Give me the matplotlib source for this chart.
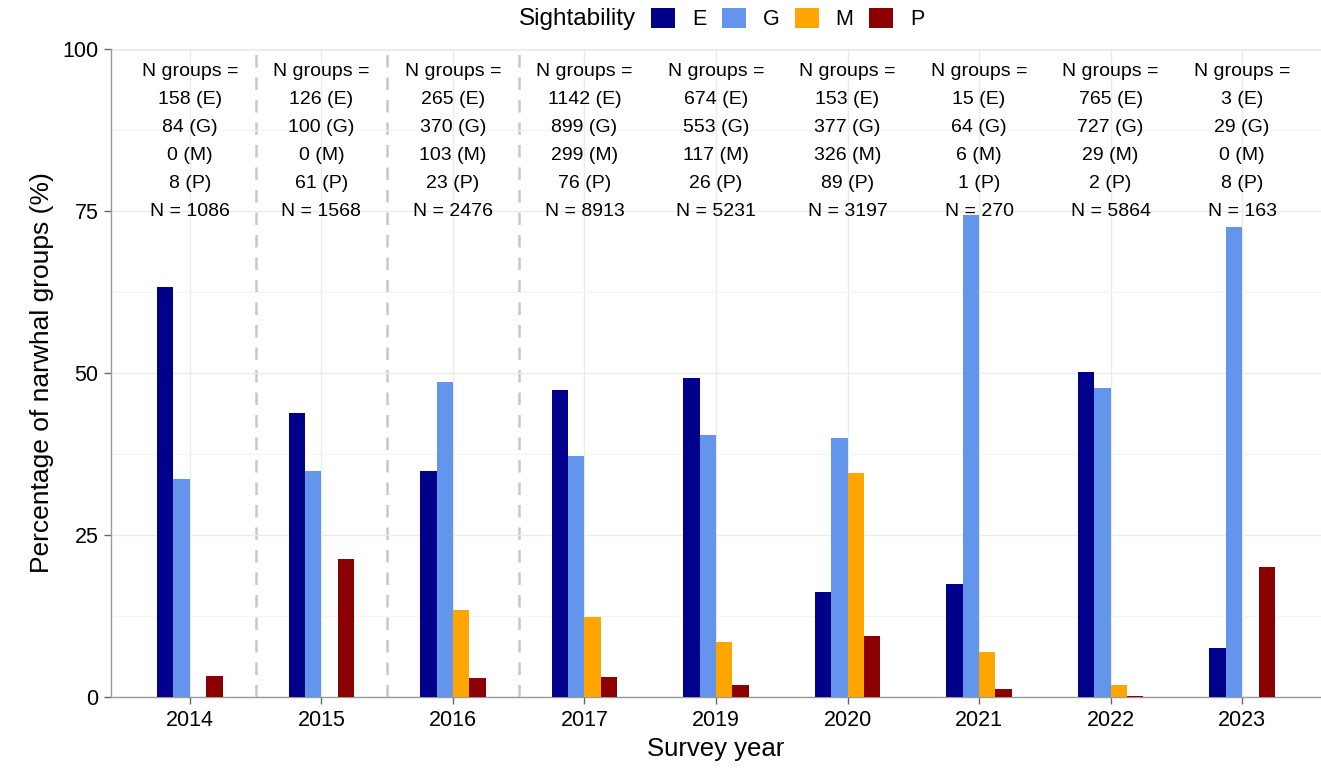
import matplotlib
matplotlib.use("Agg")
import matplotlib.pyplot as plt
from matplotlib.patches import Patch
import numpy as np

plt.rcParams['font.family'] = ['Liberation Sans', 'DejaVu Sans']

years = ["2014", "2015", "2016", "2017", "2019", "2020", "2021", "2022", "2023"]
categories = ["E", "G", "M", "P"]
colors = {"E": "#00008B", "G": "#6495ED", "M": "#FFA500", "P": "#8B0000"}

pct_E = [63.2, 43.9, 34.8, 47.3, 49.2, 16.2, 17.4, 50.2, 7.5]
pct_G = [33.6, 34.8, 48.6, 37.2, 40.4, 39.9, 74.4, 47.7, 72.5]
pct_M = [0.0, 0.0, 13.5, 12.4, 8.5, 34.5, 7.0, 1.9, 0.0]
pct_P = [3.2, 21.3, 3.0, 3.1, 1.9, 9.4, 1.2, 0.1, 20.0]

n_E = [158, 126, 265, 1142, 674, 153, 15, 765, 3]
n_G = [84, 100, 370, 899, 553, 377, 64, 727, 29]
n_M = [0, 0, 103, 299, 117, 326, 6, 29, 0]
n_P = [8, 61, 23, 76, 26, 89, 1, 2, 8]
n_total = [1086, 1568, 2476, 8913, 5231, 3197, 270, 5864, 163]

series = {"E": pct_E, "G": pct_G, "M": pct_M, "P": pct_P}

W, H = 1321, 773
fig = plt.figure(figsize=(W / 100, H / 100), dpi=100)
ax = fig.add_axes([111 / W, 1 - 697 / H, (W - 111) / W, (697 - 49) / H])

x = np.arange(len(years))
w = 0.125
offsets = [-1.5 * w, -0.5 * w, 0.5 * w, 1.5 * w]
for cat, off in zip(categories, offsets):
    ax.bar(x + off, series[cat], width=w, color=colors[cat], zorder=3, linewidth=0)

ax.set_xlim(-0.6, len(years) - 0.4)
ax.set_ylim(0, 100)
ax.set_yticks([0, 25, 50, 75, 100])
ax.set_yticks([12.5, 37.5, 62.5, 87.5], minor=True)
ax.set_xticks(x)
ax.set_xticklabels(years)

ax.grid(True, which='major', axis='both', color='#EBEBEB', linewidth=1.0, zorder=0)
ax.grid(True, which='minor', axis='y', color='#F4F4F4', linewidth=0.8, zorder=0)
ax.axhline(100, color='#AAAAAA', linewidth=1.0, zorder=1)

for b in [0.5, 1.5, 2.5]:
    ax.axvline(b, color='#C8C8C8', linestyle=(0, (5, 4)), linewidth=1.8, zorder=1)

for s in ['top', 'right']:
    ax.spines[s].set_visible(False)
for s in ['left', 'bottom']:
    ax.spines[s].set_color('#999999')
    ax.spines[s].set_linewidth(1.0)

ax.tick_params(axis='both', which='major', colors='#666666', length=5, width=1.0,
               labelsize=15.5, labelcolor='black', pad=4)
ax.tick_params(axis='both', which='minor', length=0)

ax.set_xlabel("Survey year", fontsize=18.5, labelpad=5)
ax.set_ylabel("Percentage of narwhal groups (%)", fontsize=19, labelpad=6)

line_y = [96.5, 92.2, 87.9, 83.6, 79.2, 74.9]
for i in range(len(years)):
    texts = ["N groups =", f"{n_E[i]} (E)", f"{n_G[i]} (G)", f"{n_M[i]} (M)",
             f"{n_P[i]} (P)", f"N = {n_total[i]}"]
    for t, yy in zip(texts, line_y):
        ax.text(x[i], yy, t, ha='center', va='center', fontsize=14, zorder=4)

# legend: title text + horizontal keys
fig.text(636 / W, 1 - 19 / H, "Sightability", ha='right', va='center', fontsize=17.5)
handles = [Patch(facecolor=colors[c], edgecolor='none', label=c) for c in categories]
fig.legend(handles=handles, loc='center left', bbox_to_anchor=(651 / W, 1 - 19 / H),
           ncol=4, frameon=False, fontsize=15.5, borderpad=0, borderaxespad=0,
           handlelength=1.12, handleheight=1.05, handletextpad=0.78, columnspacing=0.72)

fig.savefig("out.png", dpi=100)
